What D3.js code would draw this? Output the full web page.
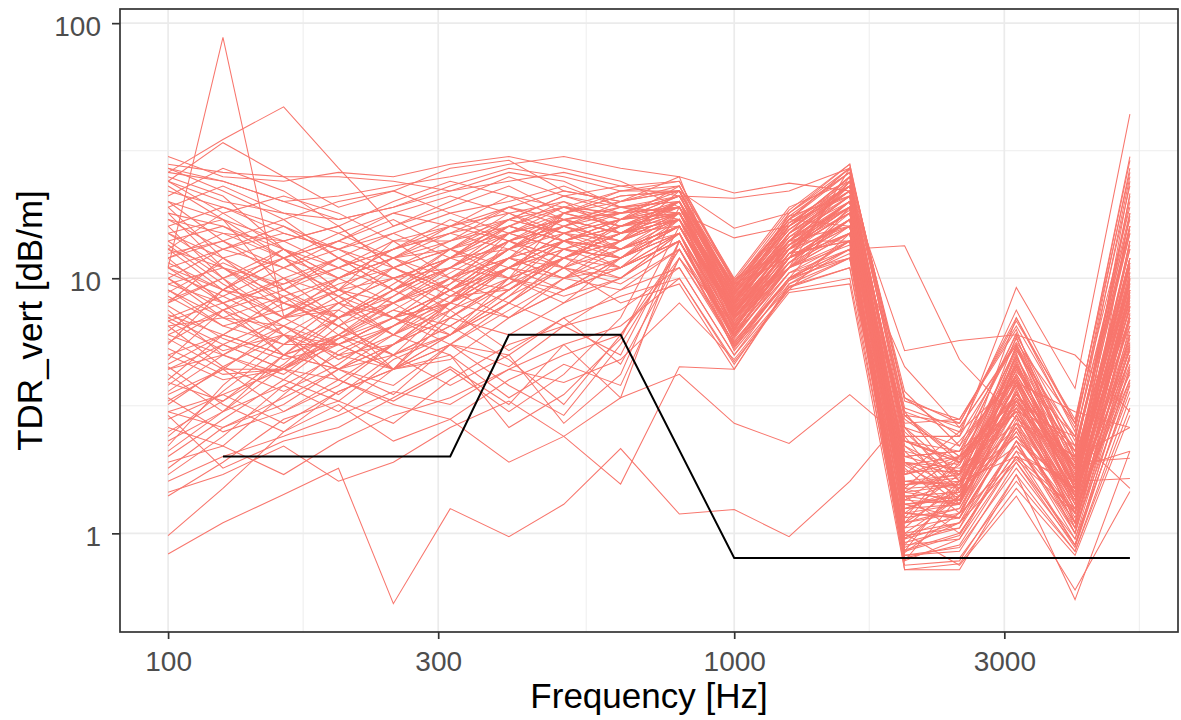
<!DOCTYPE html>
<html>
<head>
<meta charset="utf-8">
<script src="https://cdn.jsdelivr.net/npm/d3@7"></script>
<style>
  body { margin: 0; background: #fff; }
  text { font-family: "Liberation Sans", Arial, sans-serif; }
</style>
</head>
<body>
<svg id="chart"></svg>
<script>
// third-octave band centres [Hz]
const freqs = [100, 125, 160, 200, 250, 315, 400, 500, 630, 800, 1000, 1250, 1600, 2000, 2500, 3150, 4000, 5000];

// limit curve (black)
const limitFreqs = [125, 315, 400, 630, 1000, 5000];
const limitValues = [2, 2, 6, 6, 0.8, 0.8];

const xBreaks = [100, 300, 1000, 3000];
const yBreaks = [1, 10, 100];

// one row per measurement, one value per band in freqs
const tdrRows = [
  [11, 88, 7.1, 9, 14, 14, 17, 19, 16, 20, 8.2, 15, 22, 1.1, 1.9, 3.2, 1.8, 7],
  [26, 35, 47, 27, 16, 20, 25, 21, 18, 22, 6.1, 12, 25, 2.4, 1.3, 4.8, 1.4, 14],
  [30, 25, 24, 26, 25, 28, 30, 27, 24, 19, 9.4, 17, 16, 0.85, 1.6, 2.4, 1.2, 5.5],
  [24, 34, 25, 19, 22, 27, 29, 22, 20, 25, 7.0, 11, 27, 3.1, 2.6, 5.6, 2.7, 19],
  [28, 26, 25, 25, 24, 22, 26, 24, 19, 17, 5.6, 10, 19, 1.4, 1.0, 2.1, 1.5, 4.2],
  [18, 11, 7.5, 9, 12, 15, 19, 16, 14, 18, 8.8, 14, 14, 0.78, 1.4, 3.9, 1.1, 9],
  [12, 8, 6, 5.5, 7, 9, 13, 17, 15, 16, 7.3, 16, 23, 1.9, 1.8, 2.7, 2.0, 11],
  [7.5, 5, 4.2, 6, 8.5, 12, 16, 14, 17, 21, 9.9, 13, 20, 2.7, 2.8, 6.3, 1.6, 24],
  [5.5, 9, 12, 8, 6, 7.5, 11, 15, 13, 15, 5.2, 9.5, 12, 0.95, 1.1, 1.9, 0.95, 3.6],
  [9, 6.5, 5.5, 7, 4.4, 6, 10, 18, 16, 19, 7.9, 18, 26, 1.25, 1.5, 4.4, 1.8, 8],
  [3.2, 4.5, 6, 4.4, 5, 8, 14, 12, 15, 17, 6.8, 12, 17, 1.7, 2.0, 3.0, 1.3, 6],
  [15, 17, 9, 11, 14, 10, 8, 11, 17, 23, 10, 19, 24, 2.2, 1.7, 5.2, 2.4, 17],
  [2.1, 3, 5, 4.4, 3.5, 5.5, 4.5, 6.5, 5, 14, 5.9, 11, 15, 0.9, 0.95, 2.3, 1.5, 4.8],
  [20, 14, 10, 7, 9, 13, 18, 20, 15, 20, 8.4, 14, 21, 1.5, 2.3, 4.1, 1.5, 12],
  [6.5, 7, 8.5, 10, 12, 16, 21, 17, 13, 16, 6.4, 13, 18, 1.15, 1.25, 2.9, 1.15, 5.8],
  [4.5, 3.2, 2.5, 3.6, 4.4, 7, 10, 8, 12, 18, 7.6, 15, 25, 2.9, 1.9, 3.5, 2.1, 15],
  [11, 13, 16, 12, 9, 11, 15, 19, 18, 21, 9.1, 16, 22, 1.6, 1.55, 5.9, 1.6, 10],
  [2.6, 2.2, 3.5, 5.2, 6.5, 9, 12, 10, 9, 13, 6.0, 10.5, 13, 0.8, 0.9, 2.0, 0.9, 4.5],
  [16, 10, 6, 4.4, 5.5, 8, 11, 14, 16, 19, 7.1, 12.5, 20, 2.0, 2.1, 3.3, 1.9, 7.5],
  [8, 12, 14, 16, 11, 8.5, 9, 12, 14, 17, 8.0, 14, 16, 1.3, 1.35, 4.6, 1.3, 9.5],
  [1.7, 2.4, 3.8, 3, 4.4, 5, 3.4, 4.6, 3.8, 12, 5.4, 9.2, 11, 0.75, 0.78, 1.7, 0.85, 3.4],
  [22, 19, 15, 13, 16, 19, 23, 18, 21, 22, 9.6, 17, 27, 3.4, 2.7, 6.8, 2.8, 26],
  [5, 4, 4.4, 5.5, 7, 6, 8, 11, 10, 15, 6.6, 11.5, 17, 1.05, 1.6, 2.6, 1.4, 5.2],
  [13, 9, 7, 8, 10, 12, 17, 15, 12, 16, 7.7, 13.5, 19, 1.8, 1.2, 3.7, 1.1, 8.5],
  [3.8, 5.5, 7, 9, 8, 10, 13, 16, 14, 18, 8.6, 15.5, 23, 1.35, 1.85, 4.2, 1.8, 13],
  [10, 7.5, 9, 12, 15, 18, 20, 23, 19, 20, 6.9, 12, 24, 2.5, 1.6, 5.0, 1.6, 11.5],
  [2.9, 1.8, 2.3, 2.6, 3.4, 4.5, 3.2, 5.5, 3.4, 14, 5.7, 10, 14, 0.88, 1.1, 2.2, 1.05, 4],
  [19, 23, 18, 15, 12, 9, 12, 16, 20, 22, 9.2, 17.5, 21, 1.45, 2.0, 3.4, 2.2, 16],
  [7, 8.5, 11, 14, 17, 13, 10, 14, 17, 18, 7.4, 13, 18, 2.1, 1.35, 4.0, 1.4, 9],
  [1.4, 1.9, 2.8, 3.3, 2.7, 4, 5.5, 6.5, 7.5, 11, 5.0, 9.0, 10, 0.8, 0.8, 1.6, 0.85, 3.1],
  [25, 21, 13, 9, 7, 8, 12, 18, 22, 24, 9.8, 18.5, 28, 3.0, 2.5, 7.5, 2.7, 29],
  [6, 5, 6.5, 4.8, 6, 9.5, 15, 13, 11, 14, 6.2, 11, 16, 1.2, 1.15, 2.5, 1.1, 5],
  [14, 16, 12, 10, 13, 17, 14, 12, 15, 19, 8.1, 14.5, 19, 1.55, 1.65, 4.5, 1.7, 10.5],
  [4, 6, 8, 6.5, 5, 6, 9, 12, 16, 20, 8.9, 16, 25, 2.3, 1.95, 3.8, 1.55, 14],
  [9.5, 11, 8.5, 6, 4.4, 4.8, 7, 10, 13, 17, 7.0, 12, 15, 1.0, 1.4, 3.1, 1.25, 7],
  [2.4, 3.6, 5.5, 8, 10, 12, 16, 19, 17, 19, 7.8, 15, 22, 1.75, 1.75, 5.4, 1.9, 12],
  [17, 13, 11, 13, 15, 12, 10, 9, 12, 16, 6.5, 11, 17, 0.92, 1.05, 2.8, 1.0, 6.5],
  [5.8, 4.4, 3, 3.8, 5.5, 7.5, 11, 15, 18, 21, 9.3, 16.5, 23, 2.6, 2.2, 4.3, 2.4, 18],
  [11, 8, 5, 6, 8, 11, 16, 20, 17, 18, 7.2, 14, 20, 1.4, 1.3, 3.6, 1.45, 8.8],
  [3, 2.6, 3.2, 4.4, 6, 8.5, 12, 14, 12, 15, 6.3, 12.5, 14, 1.1, 1.5, 2.4, 1.45, 5.6],
  [26, 24, 20, 17, 19, 23, 27, 25, 22, 23, 9.7, 17, 26, 2.8, 2.0, 6.1, 2.0, 21],
  [8.5, 6.5, 7.5, 9.5, 11, 9, 7, 9, 11, 15, 6.0, 11.5, 18, 1.3, 1.15, 2.6, 1.0, 5.4],
  [4.8, 7.5, 10, 8.5, 7, 9, 13, 11, 9.5, 13, 5.5, 10, 13, 0.84, 1.2, 1.95, 1.2, 4.3],
  [13, 18, 21, 18, 14, 16, 19, 17, 15, 18, 8.3, 15, 21, 1.6, 1.7, 4.9, 1.65, 11],
  [7, 5.5, 4.4, 4, 3.3, 4.4, 3.0, 4.2, 7, 19, 7.5, 13, 24, 2.2, 1.5, 3.9, 1.8, 13.5],
  [2, 2.8, 4, 5.8, 8, 10.5, 14, 16, 13, 16, 6.7, 12, 16, 1.2, 1.7, 3.0, 1.2, 7.3],
  [19, 12, 8, 6.5, 8, 10, 9, 12, 15, 18, 7.9, 14, 19, 1.5, 1.3, 4.7, 1.5, 9.8],
  [6.2, 9, 13, 11, 9, 12, 17, 21, 19, 21, 8.7, 16, 25, 2.4, 2.4, 5.5, 2.2, 16],
  [10.5, 8.5, 6.5, 5, 5.5, 7, 10, 8.5, 10, 14, 5.8, 11, 14, 0.98, 1.05, 2.3, 1.0, 5.0],
  [3.5, 4.4, 4.4, 6, 7.5, 6.5, 9, 13, 15, 17, 7.3, 13, 20, 1.35, 1.6, 3.4, 1.4, 8.2],
  [23, 17, 12, 14, 18, 21, 18, 15, 17, 20, 8.5, 15, 22, 1.85, 1.4, 4.4, 1.75, 12],
  [1.6, 2, 2.4, 2.9, 3.6, 3.2, 4.4, 5.5, 6.5, 10, 4.7, 8.8, 9.5, 0.72, 0.76, 1.5, 0.82, 2.9],
  [12, 14, 17, 20, 22, 18, 15, 18, 21, 22, 9.0, 17, 23, 2.0, 2.1, 5.8, 2.0, 20],
  [5, 6, 5, 7, 9.5, 13, 11, 10, 12, 16, 6.9, 13.5, 18, 1.25, 1.45, 3.2, 1.3, 7.7],
  [8, 10, 13, 9, 7, 5.5, 8, 12, 11, 15, 6.3, 12, 15, 1.0, 1.1, 2.7, 1.35, 6.2],
  [2.8, 3.5, 2.7, 3.6, 4.4, 6, 8.5, 11, 14, 18, 8.0, 14.5, 22, 1.7, 1.9, 4.0, 1.65, 11.5],
  [15, 11, 9.5, 11, 13, 15, 13, 16, 19, 20, 7.6, 13.5, 20, 1.45, 1.55, 3.5, 1.85, 10],
  [4.2, 3, 3.8, 5, 4.4, 5.5, 3.8, 2.9, 5.5, 13, 5.3, 10, 13, 0.86, 1.0, 2.1, 0.9, 4.4],
  [6.8, 8, 9.5, 12, 10, 8, 11, 14, 13, 16, 7.0, 12.5, 17, 1.2, 1.3, 3.3, 1.35, 7.8],
  [21, 27, 22, 16, 11, 13, 17, 21, 23, 24, 9.5, 18, 27, 3.3, 2.8, 6.5, 2.6, 23],
  [3.3, 4.4, 6.5, 5.5, 4.4, 7.5, 5.2, 7, 4.6, 12, 5.6, 10.5, 12, 0.82, 0.88, 1.8, 0.9, 3.8],
  [9, 7, 5.5, 5.5, 6.5, 9, 13, 17, 18, 19, 8.2, 14, 21, 1.55, 1.7, 4.1, 1.55, 10.2],
  [12, 15, 12, 8.5, 6, 8, 11, 13, 12, 15, 6.6, 12, 16, 1.1, 1.2, 2.9, 1.2, 6.8],
  [4.4, 5, 7, 10, 13, 16, 18, 14, 11, 14, 6.1, 11, 15, 0.95, 1.4, 2.5, 1.1, 5.3],
  [7.2, 6, 5, 5.8, 7.5, 10, 14, 18, 20, 22, 8.8, 16.5, 24, 2.1, 1.85, 5.3, 2.1, 17.5],
  [0.83, 1.1, 1.42, 1.8, 0.53, 1.25, 0.97, 1.3, 2.15, 1.19, 1.24, 0.97, 1.6, 2.9, 2.0, 3.5, 1.8, 2.1],
  [0.98, 1.5, 2.5, 3.2, 2.3, 2.8, 1.9, 2.4, 3.4, 4.2, 2.7, 2.25, 3.5, 2.3, 1.9, 3.0, 2.4, 1.5],
  [1.45, 1.7, 2.2, 1.6, 1.9, 2.6, 3.3, 2.4, 1.56, 4.5, 4.4, 9.5, 13, 13.4, 4.8, 2.8, 2.0, 2.6],
  [27, 24, 20, 21, 23, 25, 28, 30, 27, 25, 21.6, 23.6, 22, 5.2, 5.7, 6.0, 5.0, 3.0],
  [24, 20, 18, 17, 19, 22, 24, 26, 23, 21, 20.6, 22, 27, 3.4, 2.4, 9.2, 3.7, 44],
  [17, 15, 14, 16, 20, 24, 21, 19, 22, 22, 15.7, 18, 28, 2.6, 1.7, 7.0, 2.7, 30],
  [11, 9, 8, 10, 12, 13, 15, 17, 19, 18, 14.4, 16, 23, 1.9, 1.3, 5.5, 1.5, 21.5],
  [2.3, 3, 4.5, 6, 5, 3.8, 5, 7, 8.5, 10, 4.6, 9.2, 12, 3.0, 1.6, 2.0, 1.6, 1.64],
  [3.6, 5, 4, 3.3, 4.8, 6, 8, 6.5, 9, 11, 5.0, 9.8, 14, 4.5, 2.6, 5.5, 1.9, 1.97],
  [1.9, 2.2, 1.7, 2.3, 2.9, 3.4, 4.4, 3.9, 4.8, 8, 4.8, 9, 15, 1.9, 1.5, 3.9, 3.0, 2.6],
  [14, 10, 12, 15, 18, 16, 14, 11, 8, 9.5, 4.4, 9.3, 11, 1.0, 0.75, 1.4, 0.6, 1.46],
  [5.6, 7.5, 6, 4, 3.2, 2.8, 4, 5, 6, 12, 6.5, 11, 13.5, 0.72, 0.72, 1.7, 0.55, 2.1],
  [18, 16, 13, 10, 8, 9.5, 13, 15, 14, 17, 7.4, 13, 19, 1.3, 1.4, 3.6, 1.4, 9],
  [6.5, 4.5, 3.6, 4.6, 6.5, 8, 10, 12, 15, 20, 8.6, 15.5, 23, 2.3, 2.1, 4.6, 1.9, 15],
  [10, 13, 15, 13, 10, 7.5, 9.5, 14, 16, 18, 7.7, 13.5, 20, 1.5, 1.55, 3.8, 1.5, 9.6],
  [3.9, 3.3, 4.6, 7, 9, 11, 10, 12, 10, 14, 6.4, 11.5, 17, 1.05, 1.15, 2.6, 1.1, 6],
  [27, 22, 17, 12, 10, 11, 14, 17, 18, 21, 8.4, 15, 22, 1.9, 1.7, 4.2, 1.7, 13],
  [8.8, 11.5, 9, 7, 9, 12, 15, 13, 16, 17, 7.2, 13, 19, 1.35, 1.3, 3.3, 1.35, 8.4],
  [2.5, 3.3, 5, 7.5, 6, 5, 2.6, 3.5, 5.8, 16, 7.5, 13.5, 20, 1.6, 1.55, 3.9, 1.5, 10.6],
  [13.5, 9.5, 7, 7.5, 11, 14, 16, 14, 13, 16, 7.0, 12.5, 18.5, 1.25, 1.3, 3.1, 1.35, 7.7],
  [6, 7.5, 5, 4.4, 5.5, 8, 12, 11, 13, 18, 6.2, 14, 24, 1.15, 2.0, 3.1, 1.8, 6.5],
  [15, 12, 9, 6.5, 5, 6.5, 9, 12, 14, 20, 9.5, 12, 17, 2.6, 1.45, 5.1, 1.2, 18],
  [3.4, 2.5, 3, 4, 5.5, 7, 6, 8, 10, 15, 5.4, 10, 12, 0.78, 0.95, 2.0, 1.25, 4.0],
  [9.5, 8, 10, 12, 9, 11, 14, 16, 18, 19, 8.0, 16.5, 21, 1.7, 2.5, 4.0, 1.6, 12],
  [4.6, 6, 8.5, 7, 8, 6, 8.5, 13, 12, 16, 7.6, 11, 19, 1.2, 1.15, 3.6, 1.05, 7.2],
  [20, 17, 14, 11, 13, 15, 17, 15, 17, 21, 9.0, 17.5, 26, 3.6, 2.2, 6.0, 2.3, 25],
  [7.8, 5.8, 4.8, 5.5, 4.4, 5.5, 7.5, 10, 11, 14, 5.9, 12.5, 14, 0.9, 1.5, 2.2, 1.2, 4.6],
  [12.5, 14, 11, 9, 10, 12, 13, 18, 16, 18, 7.3, 14, 23, 1.45, 1.35, 4.2, 1.7, 9.3],
  [2.2, 3.8, 6, 5, 6.5, 8.5, 11, 9, 12, 17, 8.4, 13, 18, 2.0, 1.75, 3.0, 1.4, 8.6],
  [5.3, 4.2, 4.4, 6.5, 9, 7, 9.5, 12, 15, 20, 6.6, 15, 20, 1.6, 1.5, 4.9, 1.95, 11.2],
  [16, 19, 16, 13, 11, 9, 11, 14, 13, 16, 7.1, 11.5, 15, 0.96, 1.2, 2.7, 1.05, 6],
  [8.2, 10, 7, 5.5, 7, 10, 12, 10, 14, 22, 8.7, 16, 25, 2.3, 1.9, 5.3, 1.8, 16],
  [3, 3.5, 4.4, 3.5, 5, 6.5, 4.8, 3.2, 6, 13, 5.5, 9.8, 12.5, 0.82, 0.85, 1.9, 0.88, 3.9],
  [11.5, 9, 12, 14, 12, 10, 12, 14, 17, 19, 9.2, 15.5, 22, 1.85, 2.0, 4.5, 2.1, 15.5],
  [6.8, 5.2, 6, 8, 7, 9, 11, 13, 12, 15, 6.3, 12, 17, 1.3, 1.35, 2.9, 1.25, 7],
  [24, 18, 13, 10, 12, 14, 19, 22, 20, 23, 8.1, 17, 27, 2.9, 2.7, 7.0, 2.5, 27],
  [4.4, 5.5, 4.4, 5.8, 7, 8, 7, 9, 11, 17, 7.0, 13, 16, 1.1, 1.25, 3.4, 1.45, 7.8],
  [10, 7, 6.5, 8.5, 11, 13, 16, 14, 16, 18, 7.8, 14.5, 21, 1.55, 1.6, 3.8, 1.5, 9.9],
  [1.8, 2.6, 3.4, 4.4, 3.8, 5.5, 5, 2.7, 4.2, 14, 6.0, 10.5, 14, 0.85, 0.98, 2.3, 0.95, 4.9],
  [13, 11, 8, 7, 8.5, 11, 15, 17, 15, 17, 7.2, 13, 19, 1.4, 1.45, 3.3, 1.6, 8.8]
];

const width = 1181;
const height = 720;
const panel = { left: 120, right: 1178, top: 9, bottom: 632 };
const lineColor = "#F8766D";
const gridColor = "#EBEBEB";
const inkColor = "#333333";

// ggplot-like 5% expansion on log10 scale
function expandLog(lo, hi) {
    const a = Math.log10(lo), b = Math.log10(hi), pad = (b - a) * 0.05;
    return [Math.pow(10, a - pad), Math.pow(10, b + pad)];
}

const allValues = tdrRows.flat().concat(limitValues);

const x = d3.scaleLog()
    .domain(expandLog(d3.min(freqs), d3.max(freqs)))
    .range([panel.left, panel.right]);

const y = d3.scaleLog()
    .domain(expandLog(d3.min(allValues), d3.max(allValues)))
    .range([panel.bottom, panel.top]);

// minor breaks sit halfway between majors (in log space)
function minorBreaks(breaks, scale) {
    const logs = breaks.map(Math.log10);
    const out = [];
    for (let i = -1; i < logs.length; i++) {
        const a = i < 0 ? 2 * logs[0] - logs[1] : logs[i];
        const b = i + 1 < logs.length ? logs[i + 1] : 2 * logs[i] - logs[i - 1];
        out.push(Math.pow(10, (a + b) / 2));
    }
    const [d0, d1] = scale.domain();
    return out.filter(v => v > d0 && v < d1);
}

const svg = d3.select("#chart")
    .attr("width", width)
    .attr("height", height)
    .style("background", "#fff");

const grid = svg.append("g");

grid.selectAll("line.xminor")
    .data(minorBreaks(xBreaks, x))
    .enter().append("line")
    .attr("x1", d => x(d)).attr("x2", d => x(d))
    .attr("y1", panel.top).attr("y2", panel.bottom)
    .attr("stroke", gridColor).attr("stroke-width", 0.9);

grid.selectAll("line.yminor")
    .data(minorBreaks(yBreaks, y))
    .enter().append("line")
    .attr("y1", d => y(d)).attr("y2", d => y(d))
    .attr("x1", panel.left).attr("x2", panel.right)
    .attr("stroke", gridColor).attr("stroke-width", 0.9);

grid.selectAll("line.xmajor")
    .data(xBreaks)
    .enter().append("line")
    .attr("x1", d => x(d)).attr("x2", d => x(d))
    .attr("y1", panel.top).attr("y2", panel.bottom)
    .attr("stroke", gridColor).attr("stroke-width", 1.7);

grid.selectAll("line.ymajor")
    .data(yBreaks)
    .enter().append("line")
    .attr("y1", d => y(d)).attr("y2", d => y(d))
    .attr("x1", panel.left).attr("x2", panel.right)
    .attr("stroke", gridColor).attr("stroke-width", 1.7);

const line = d3.line()
    .x(d => x(d[0]))
    .y(d => y(d[1]));

svg.append("g")
    .selectAll("path")
    .data(tdrRows)
    .enter().append("path")
    .attr("d", row => line(row.map((v, i) => [freqs[i], v])))
    .attr("fill", "none")
    .attr("stroke", lineColor)
    .attr("stroke-width", 1.05);

svg.append("path")
    .attr("d", line(limitFreqs.map((f, i) => [f, limitValues[i]])))
    .attr("fill", "none")
    .attr("stroke", "#000")
    .attr("stroke-width", 2);

// panel border
svg.append("rect")
    .attr("x", panel.left).attr("y", panel.top)
    .attr("width", panel.right - panel.left)
    .attr("height", panel.bottom - panel.top)
    .attr("fill", "none")
    .attr("stroke", inkColor)
    .attr("stroke-width", 1.7);

// axes
const xAxis = svg.append("g")
    .attr("transform", `translate(0,${panel.bottom})`)
    .call(d3.axisBottom(x).tickValues(xBreaks).tickFormat(d3.format("d"))
        .tickSize(7).tickSizeOuter(0).tickPadding(12));

const yAxis = svg.append("g")
    .attr("transform", `translate(${panel.left},0)`)
    .call(d3.axisLeft(y).tickValues(yBreaks).tickFormat(d3.format("d"))
        .tickSize(8).tickSizeOuter(0).tickPadding(11));

[xAxis, yAxis].forEach(g => {
    g.select(".domain").remove();
    g.selectAll(".tick line").attr("stroke", inkColor).attr("stroke-width", 1.7);
    g.selectAll(".tick text")
        .attr("fill", "#4D4D4D")
        .style("font-size", "28px");
});
yAxis.selectAll(".tick text").attr("dy", "0.43em");

svg.append("text")
    .attr("x", (panel.left + panel.right) / 2)
    .attr("y", 708)
    .attr("text-anchor", "middle")
    .attr("fill", "#000")
    .style("font-size", "35px")
    .text("Frequency [Hz]");

svg.append("text")
    .attr("transform", `translate(42,${(panel.top + panel.bottom) / 2}) rotate(-90)`)
    .attr("text-anchor", "middle")
    .attr("fill", "#000")
    .style("font-size", "35px")
    .text("TDR_vert [dB/m]");
</script>
</body>
</html>
